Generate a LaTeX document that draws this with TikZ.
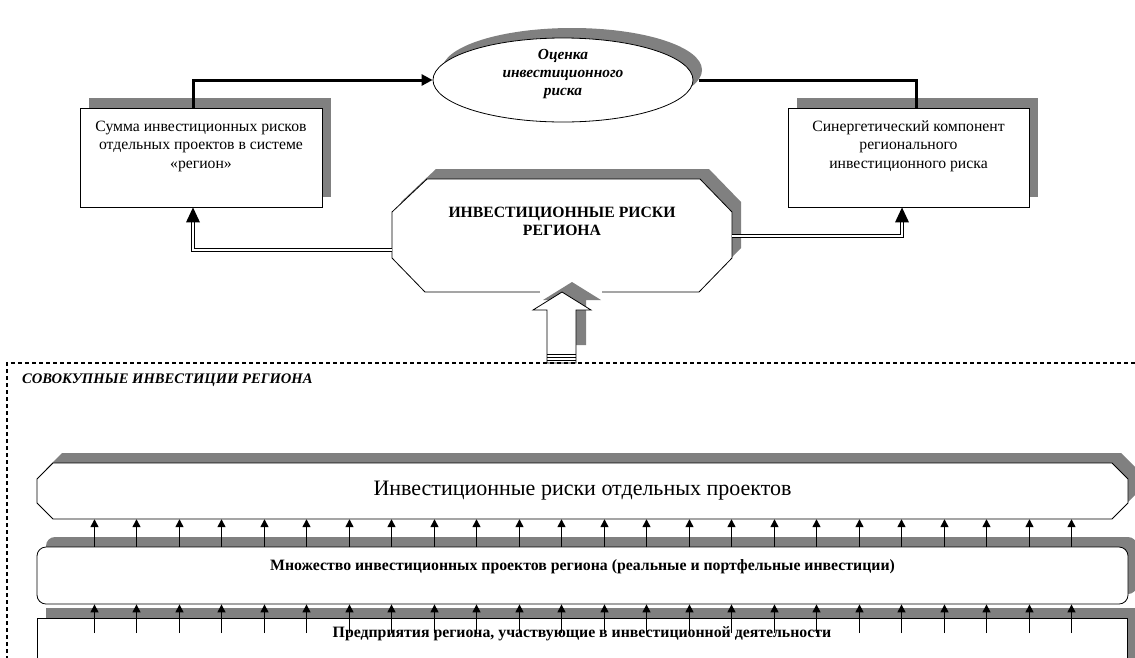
\documentclass[tikz,border=0pt]{standalone}
\usepackage{fontspec}
\setmainfont{Liberation Serif}
\usetikzlibrary{shapes.geometric,arrows.meta,shadows,calc}
\definecolor{shd}{gray}{0.5}
\begin{document}
\begin{tikzpicture}[x=1pt,y=-1pt,
  shdfill/.style={fill=shd,draw=none},
  withshadow/.style={general shadow={fill=shd,shadow xshift=9pt,shadow yshift=10pt}},
  boxst/.style={draw,fill=white,line width=0.8pt,rectangle,inner sep=0pt,withshadow},
  outl/.style={draw,fill=white,line width=0.8pt},
  ghost/.style={rectangle,draw=none,inner sep=0pt},
  txt/.style={align=center,inner sep=0pt,font=\fontsize{15.7}{18.5}\selectfont},
  thick3/.style={line width=3pt},
  dbl/.style={double,double distance=2pt,line width=1pt},
  sarr/.style={line width=1.4pt,-{Triangle[length=8pt,width=8pt]}},
]
\clip (0,0) rectangle (1135,657);
\fill[white] (0,0) rectangle (1135,657);

% ---- top boxes
\node[boxst,minimum width=242pt,minimum height=99pt] (lbox) at (201,157.5) {};
\node[txt] (ltxt) at (201,146) {Сумма инвестиционных рисков\\отдельных проектов в системе\\«регион»};
\node[boxst,minimum width=241pt,minimum height=99pt] (rbox) at (908.5,157.5) {};
\node[txt] (rtxt) at (908.5,146) {Синергетический компонент\\регионального\\инвестиционного риска};

% ---- ellipse
\node[ellipse,draw,fill=white,line width=0.8pt,inner sep=0pt,minimum width=260pt,minimum height=84pt,withshadow] (ell) at (563,80) {};
\node[txt,font=\fontsize{15.4}{18}\selectfont\bfseries\itshape] (etxt) at (563,74) {Оценка\\инвестиционного\\риска};

% ---- top connectors
\draw[thick3,-{Triangle[length=11pt,width=11pt]}] ([xshift=-8pt]lbox.north) |- (ell.west);
\draw[thick3] ([xshift=6pt]ell.east) -| ([xshift=8pt]rbox.north);

% ---- octagon
\node[ghost,minimum width=340pt,minimum height=113pt] (oct) at (562,235.5) {};
\path[shdfill,shift={(9,-10)}] (392,212) -- (427,179) -- (700,179) -- (732,212) -- (732,258) -- (699,292) -- (425,292) -- (392,258) -- cycle;
\path[outl] (392,212) -- (427,179) -- (700,179) -- (732,212) -- (732,258) -- (699,292) -- (425,292) -- (392,258) -- cycle;
\node[txt,font=\fontsize{15.7}{18}\selectfont\bfseries] (otxt) at (562,221) {ИНВЕСТИЦИОННЫЕ РИСКИ\\РЕГИОНА};

% ---- double connectors
\draw[dbl,shorten >=14pt] ([yshift=-14.5pt]oct.west) -| ([xshift=-8pt]lbox.south);
\fill ([xshift=-8pt]lbox.south) -- ++(-7,15) -- ++(14,0) -- cycle;
\draw[dbl,shorten >=14pt] ([yshift=-0.5pt]oct.east) -| ([xshift=-6.5pt]rbox.south);
\fill ([xshift=-6.5pt]rbox.south) -- ++(-7,15) -- ++(14,0) -- cycle;

% ---- block arrow
\fill[white] (540,288) rectangle (602,297);
\path[shdfill,shift={(10,-10)}] (562,292) -- (591,310) -- (576,310) -- (576,355) -- (547,355) -- (547,310) -- (533,310) -- cycle;
\path[outl] (562,292) -- (591,310) -- (576,310) -- (576,363) -- (547,363) -- (547,310) -- (533,310) -- cycle;
\draw[line width=0.7pt] (547,354) -- (576,354) (547,357) -- (576,357) (547,360) -- (576,360);
\coordinate (abot) at (561.5,363);

% ---- dashed frame
\draw[line width=1.5pt,dash pattern=on 4pt off 3pt] (7,660) -- (7,363) -- (1140,363);
\node[anchor=west,inner sep=0pt,font=\fontsize{14.6}{17}\selectfont\bfseries\itshape] (ftxt) at (22,380) {СОВОКУПНЫЕ ИНВЕСТИЦИИ РЕГИОНА};

% ---- bottom boxes
\node[ghost,minimum width=1091pt,minimum height=56pt] (pr) at (582.5,491) {};
\path[shdfill,shift={(9,-10)}] (53,463) -- (1112,463) -- (1128,479) -- (1128,503) -- (1112,519) -- (53,519) -- (37,503) -- (37,479) -- cycle;
\path[outl] (53,463) -- (1112,463) -- (1128,479) -- (1128,503) -- (1112,519) -- (53,519) -- (37,503) -- (37,479) -- cycle;
\node[txt,font=\fontsize{22}{24}\selectfont] (prtxt) at (582.5,491) {Инвестиционные риски отдельных проектов};

\node[boxst,rounded corners=9pt,minimum width=1091pt,minimum height=57pt] (mn) at (582.5,575.5) {};
\node[txt,font=\fontsize{15.8}{18}\selectfont\bfseries] (mntxt) at (582.5,567) {Множество инвестиционных проектов региона (реальные и портфельные инвестиции)};

\node[boxst,minimum width=1090pt,minimum height=82pt] (pd) at (582,659) {};
\node[txt,font=\fontsize{15.8}{18}\selectfont\bfseries] (pdtxt) at (582,634) {Предприятия региона, участвующие в инвестиционной деятельности};

% ---- small arrows
\foreach \i in {0,...,23} {
  \pgfmathsetmacro\xx{round(94+42.48*\i)+0.5}
  \draw[sarr] (\xx,0 |- mn.north) -- (\xx,0 |- pr.south);
  \draw[sarr] (\xx,633) -- (\xx,0 |- mn.south);
}
\end{tikzpicture}
\end{document}
